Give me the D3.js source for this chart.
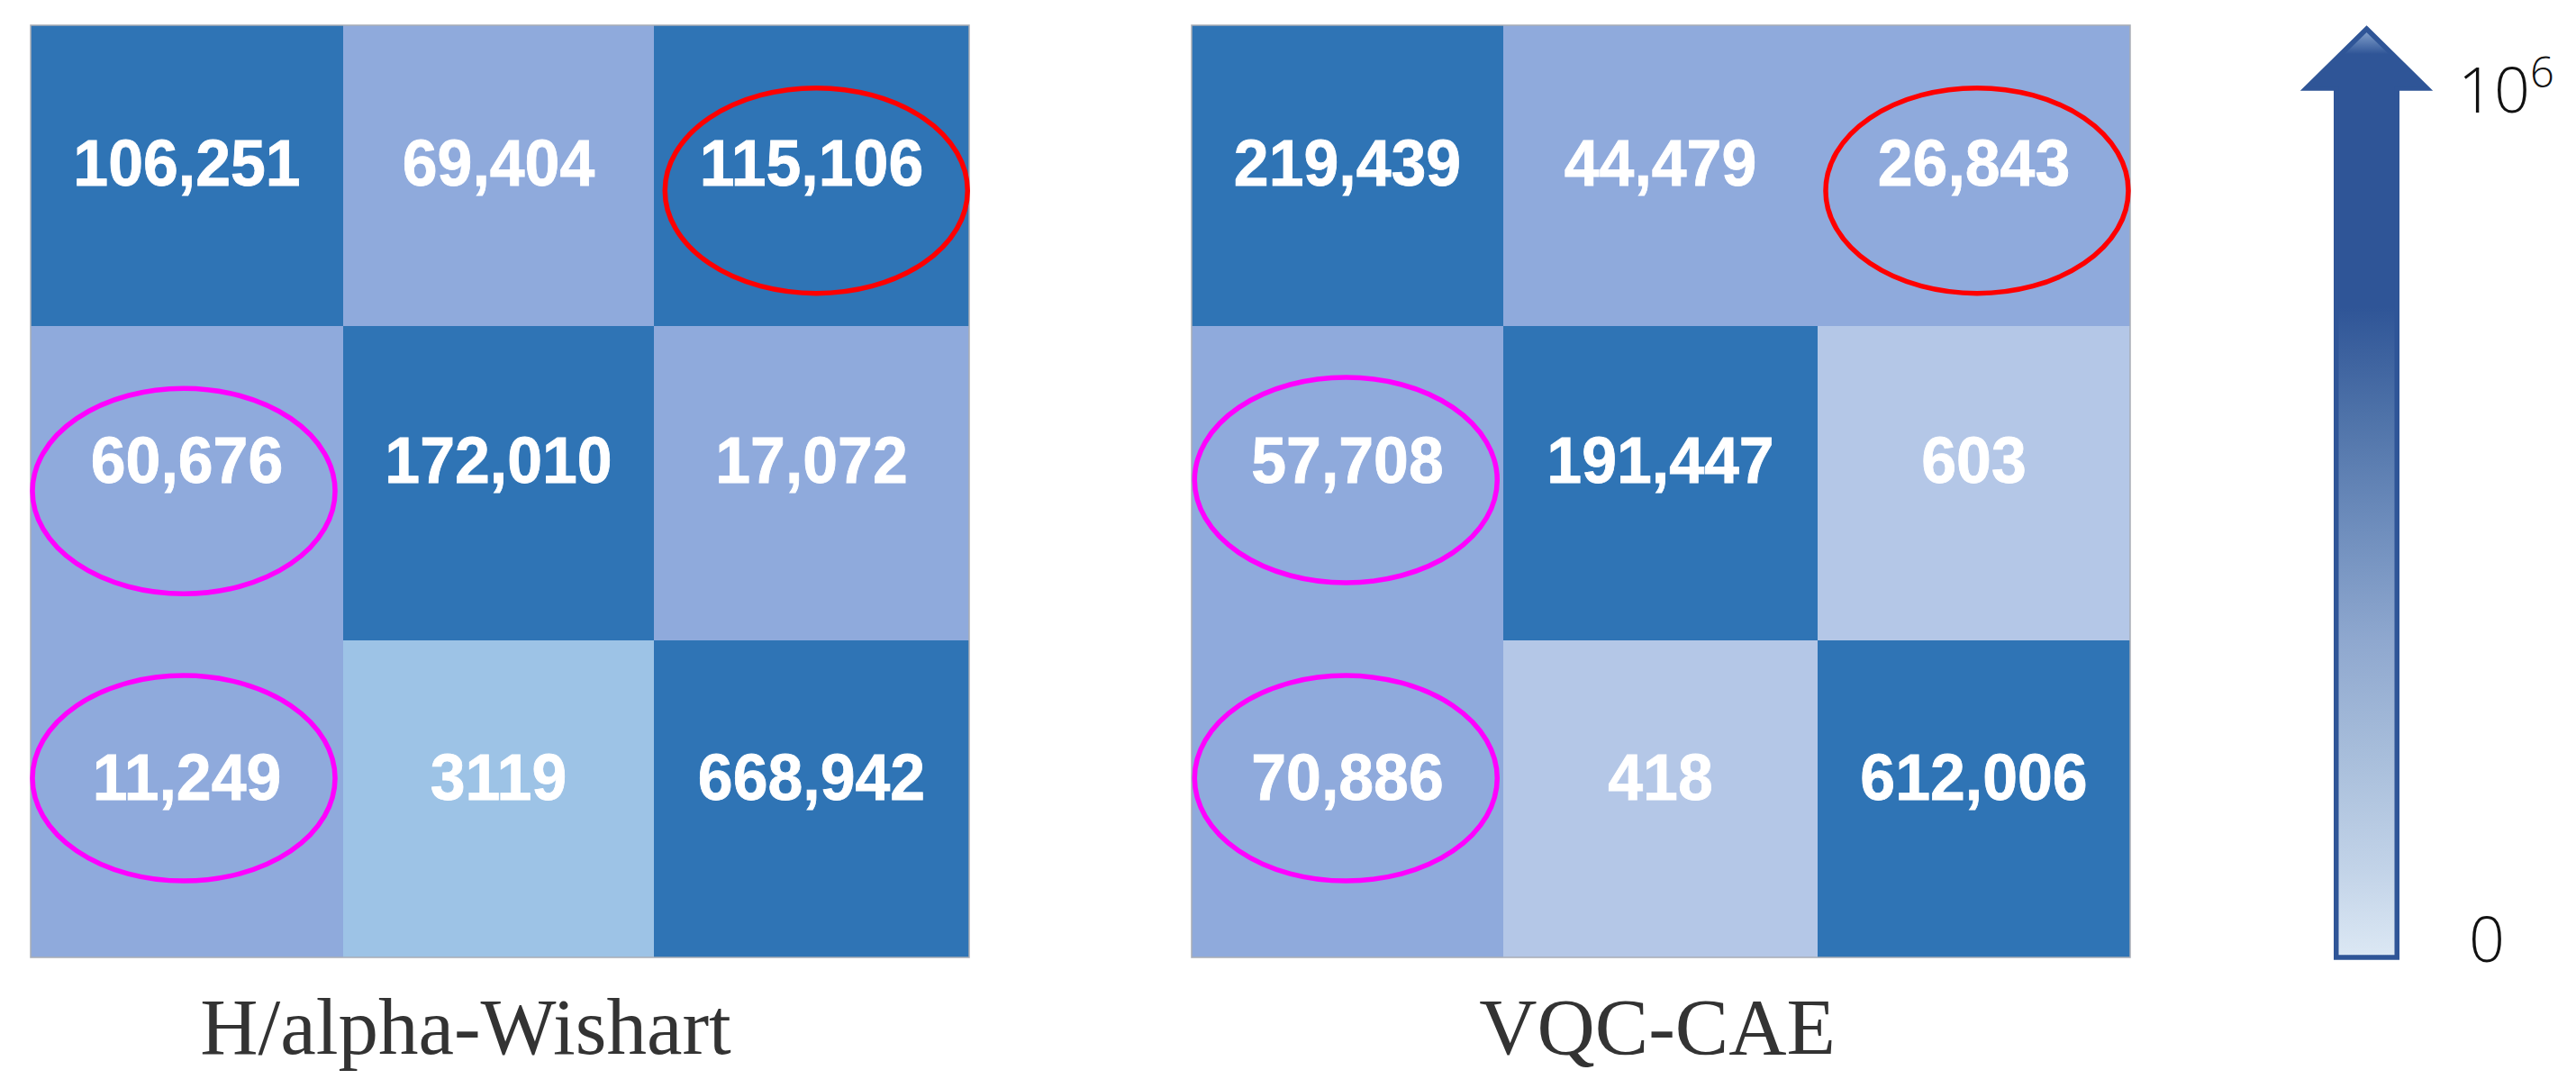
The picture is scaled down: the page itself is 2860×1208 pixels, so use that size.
<!DOCTYPE html>
<html lang="en">
<head>
<meta charset="UTF-8">
<title>H/alpha-Wishart vs VQC-CAE</title>
<style>
    html, body { margin: 0; padding: 0; background: #fff; }
    svg { display: block; }
    .cell { shape-rendering: crispEdges; }
    .value { font-family: "Liberation Sans", Arial, sans-serif; font-weight: 700; font-size: 72px; fill: #fff; stroke: #fff; stroke-width: 0.8px; text-anchor: middle; }
    .title { font-family: "Liberation Serif", "Times New Roman", serif; font-size: 89px; fill: #333; text-anchor: middle; }
    .tick { font-family: "Open Sans", sans-serif; font-weight: 300; fill: #111; }
</style>
</head>
<body>
<svg id="chart" width="2860" height="1208"></svg>
<script src="https://cdn.jsdelivr.net/npm/d3@7"></script>
<script>
const panelNames = ["H/alpha-Wishart", "VQC-CAE"];

const wishartValues = [
    [106251, 69404, 115106],
    [60676, 172010, 17072],
    [11249, 3119, 668942]
];
const vqcValues = [
    [219439, 44479, 26843],
    [57708, 191447, 603],
    [70886, 418, 612006]
];

// shade class of each cell
const shadeNames = ["dark", "mid", "pale", "sky"];
const wishartShades = [
    ["dark", "mid", "dark"],
    ["mid", "dark", "mid"],
    ["mid", "sky", "dark"]
];
const vqcShades = [
    ["dark", "mid", "mid"],
    ["mid", "dark", "pale"],
    ["mid", "pale", "dark"]
];

const legendTicks = [0, 6];

const svg = d3.select("#chart");
const color = d3.scaleOrdinal(shadeNames, ["#2f74b5", "#8faadc", "#b4c7e7", "#9dc3e6"]);

// the grid lines of the original are not evenly spaced
const y = d3.scaleLinear().domain([0, 1, 2, 3]).range([28, 362, 711, 1063]);
const labelY = d3.scaleLinear().domain([0, 1, 2]).range([205.5, 536, 888]);

const panels = [
    {
        name: panelNames[0], values: wishartValues, shades: wishartShades,
        x: d3.scaleLinear().domain([0, 1, 2, 3]).range([34, 381, 726, 1076]),
        titleX: 517,
        // ellipse centres as [column, row] in grid units
        red: [[2.515, 0.55]],
        magenta: [[0.49, 1.525], [0.49, 2.435]]
    },
    {
        name: panelNames[1], values: vqcValues, shades: vqcShades,
        x: d3.scaleLinear().domain([0, 1, 2, 3]).range([1323, 1669, 2018, 2365]),
        titleX: 1840,
        red: [[2.51, 0.55]],
        magenta: [[0.495, 1.49], [0.495, 2.435]]
    }
];

panels.forEach(p => {
    const g = svg.append("g");
    const cells = p.values.flatMap((row, r) => row.map((v, c) => ({ r, c, v, shade: p.shades[r][c] })));

    g.selectAll("rect.cell")
        .data(cells)
        .join("rect")
        .attr("class", "cell")
        .attr("x", d => p.x(d.c))
        .attr("y", d => y(d.r))
        .attr("width", d => p.x(d.c + 1) - p.x(d.c))
        .attr("height", d => y(d.r + 1) - y(d.r))
        .attr("fill", d => color(d.shade));

    // thin grey frame
    g.append("rect")
        .attr("x", p.x(0))
        .attr("y", y(0))
        .attr("width", p.x(3) - p.x(0))
        .attr("height", y(3) - y(0))
        .attr("fill", "none")
        .attr("stroke", "#a9adb5")
        .attr("stroke-width", 1.5);

    g.selectAll("text.value")
        .data(cells)
        .join("text")
        .attr("class", "value")
        .attr("transform", d => `translate(${(p.x(d.c) + p.x(d.c + 1)) / 2},${labelY(d.r)}) scale(0.97,1)`)
        .text(d => d.v >= 10000 ? d3.format(",")(d.v) : String(d.v));

    const rings = [
        ...p.red.map(e => ({ e, stroke: "#ff0000" })),
        ...p.magenta.map(e => ({ e, stroke: "#ff00ff" }))
    ];
    g.selectAll("ellipse")
        .data(rings)
        .join("ellipse")
        .attr("cx", d => p.x(d.e[0]))
        .attr("cy", d => y(d.e[1]))
        .attr("rx", 168)
        .attr("ry", 114)
        .attr("fill", "none")
        .attr("stroke", d => d.stroke)
        .attr("stroke-width", 5.5);

    g.append("text")
        .attr("class", "title")
        .attr("x", p.titleX)
        .attr("y", 1170)
        .text(p.name);
});

// colour arrow
const defs = svg.append("defs");
const grad = defs.append("linearGradient")
    .attr("id", "arrowFill")
    .attr("x1", 0).attr("x2", 0).attr("y1", 0).attr("y2", 1);
[[0, "#2f5597"], [0.3, "#2f5597"], [0.42, "#4f73a9"], [0.54, "#6f8ebd"], [0.66, "#8fa8cf"], [0.785, "#a8bedb"], [0.905, "#c2d3e8"], [1, "#dce8f4"]]
    .forEach(([o, c]) => grad.append("stop").attr("offset", o).attr("stop-color", c));

const tip = defs.append("linearGradient")
    .attr("id", "tipFill")
    .attr("x1", 0).attr("x2", 0).attr("y1", 0).attr("y2", 1);
tip.append("stop").attr("offset", 0).attr("stop-color", "#7f9dc9");
tip.append("stop").attr("offset", 1).attr("stop-color", "#2f5597");

const arrow = d3.path();
arrow.moveTo(2627.5, 32);
arrow.lineTo(2694.5, 98);
arrow.lineTo(2661.25, 98);
arrow.lineTo(2661.25, 1063);
arrow.lineTo(2593.75, 1063);
arrow.lineTo(2593.75, 98);
arrow.lineTo(2560.5, 98);
arrow.closePath();

svg.append("path")
    .attr("d", arrow.toString())
    .attr("fill", "url(#arrowFill)")
    .attr("stroke", "#2f5597")
    .attr("stroke-width", 5.5)
    .attr("stroke-linejoin", "miter");

const tipShape = d3.path();
tipShape.moveTo(2627.5, 36);
tipShape.lineTo(2652, 60);
tipShape.lineTo(2603, 60);
tipShape.closePath();
svg.append("path").attr("d", tipShape.toString()).attr("fill", "url(#tipFill)");

const legendY = d3.scaleLinear().domain([0, 6]).range([1068, 125]);
svg.selectAll("text.tick")
    .data(legendTicks)
    .join("text")
    .attr("class", "tick")
    .attr("x", d => d === 0 ? 2741 : 2729)
    .attr("y", d => legendY(d))
    .attr("font-size", 70)
    .each(function (d) {
        const t = d3.select(this);
        if (d === 0) { t.text("0"); return; }
        t.append("tspan").text("10");
        t.append("tspan")
            .attr("font-size", 47)
            .attr("dy", -28)
            .text(d);
    });
</script>
</body>
</html>
